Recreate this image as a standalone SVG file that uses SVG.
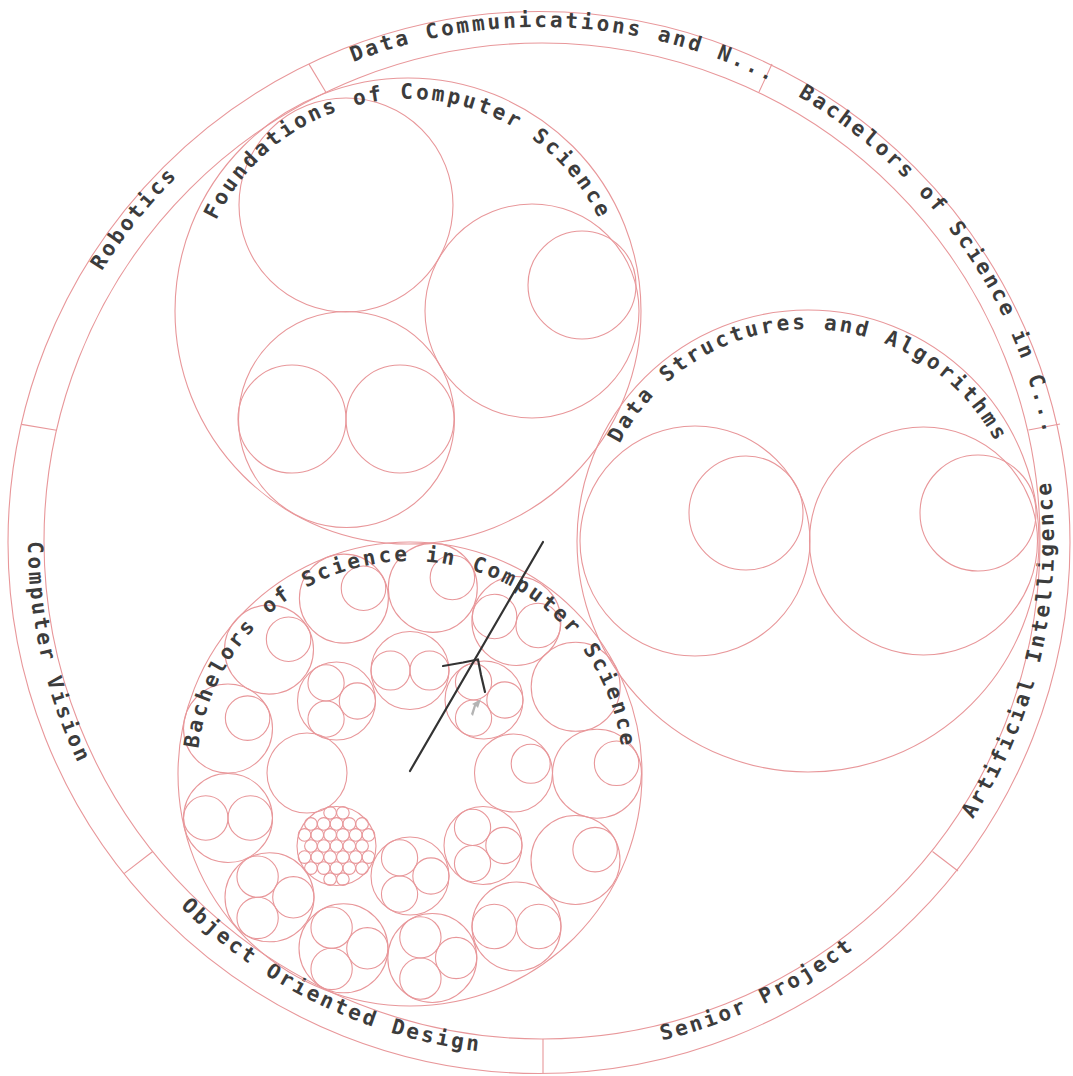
<svg xmlns="http://www.w3.org/2000/svg" xmlns:xlink="http://www.w3.org/1999/xlink" width="1073" height="1076" viewBox="0 0 1073 1076">
<style>
  .c { fill: none; stroke: #e8979a; stroke-width: 1.1; }
  .lbl { font-family: "DejaVu Sans Mono", "Liberation Mono", monospace; font-size: 21px; font-weight: bold; letter-spacing: 2.8px; fill: #3c3c3c; }
  .ln { fill: none; stroke: #333; stroke-width: 2.2; stroke-linecap: round; stroke-linejoin: round; }
</style>
<defs>
  <path id="ringTop" d="M25,542 A515,515 0 0 1 1055,542"/>
  <path id="ringBot" d="M28,542 A513,513 0 0 0 1054,542"/>
  <path id="arcF" d="M196,311 A212,212 0 0 1 620,311"/>
  <path id="arcD" d="M596,541 A212,212 0 0 1 1020,541"/>
  <path id="arcB" d="M197,774 A213,213 0 0 1 623,774"/>
</defs>
<rect width="1073" height="1076" fill="#ffffff"/>

<g id="ring">
  <circle class="c" cx="539" cy="542.5" r="531"/>
  <circle class="c" cx="542" cy="541" r="498"/>
  <g id="ring-dividers">
    <line class="c" x1="543" y1="1039" x2="543" y2="1073"/>
    <line class="c" x1="152.7" y1="851.5" x2="124" y2="873.6"/>
    <line class="c" x1="56.5" y1="430.2" x2="21.5" y2="424.4"/>
    <line class="c" x1="325.9" y1="92.3" x2="309" y2="64.1"/>
    <line class="c" x1="759" y1="92" x2="772" y2="64"/>
    <line class="c" x1="1028.5" y1="430" x2="1060" y2="424"/>
    <line class="c" x1="932.5" y1="851.5" x2="958" y2="871"/>
  </g>
  <g id="ring-labels">
    <text class="lbl" transform="rotate(-51.43 540 542)"><textPath xlink:href="#ringTop" href="#ringTop" startOffset="50%" text-anchor="middle">Robotics</textPath></text>
    <text class="lbl" transform="rotate(2.8 540 542)"><textPath xlink:href="#ringTop" href="#ringTop" startOffset="50%" text-anchor="middle">Data Communications and N...</textPath></text>
    <text class="lbl" transform="rotate(54.1 540 542)"><textPath xlink:href="#ringTop" href="#ringTop" startOffset="50%" text-anchor="middle">Bachelors of Science in C...</textPath></text>
    <text class="lbl" transform="rotate(-77.14 541 542)"><textPath xlink:href="#ringBot" href="#ringBot" startOffset="50%" text-anchor="middle">Artificial Intelligence</textPath></text>
    <text class="lbl" transform="rotate(-25.71 541 542)"><textPath xlink:href="#ringBot" href="#ringBot" startOffset="50%" text-anchor="middle">Senior Project</textPath></text>
    <text class="lbl" transform="rotate(25.71 541 542)"><textPath xlink:href="#ringBot" href="#ringBot" startOffset="50%" text-anchor="middle">Object Oriented Design</textPath></text>
    <text class="lbl" transform="rotate(77.14 541 542)"><textPath xlink:href="#ringBot" href="#ringBot" startOffset="50%" text-anchor="middle">Computer Vision</textPath></text>
  </g>
</g>

<g id="foundations">
  <circle class="c" cx="408" cy="311" r="233"/>
  <circle class="c" cx="346" cy="205" r="107"/>
  <circle class="c" cx="532" cy="311" r="107"/>
  <circle class="c" cx="582" cy="285" r="54"/>
  <circle class="c" cx="346.5" cy="419.5" r="108"/>
  <circle class="c" cx="292" cy="419" r="54"/>
  <circle class="c" cx="400" cy="419" r="54"/>
  <text class="lbl"><textPath xlink:href="#arcF" href="#arcF" startOffset="50%" text-anchor="middle">Foundations of Computer Science</textPath></text>
</g>

<g id="data-structures">
  <circle class="c" cx="808" cy="541" r="231"/>
  <circle class="c" cx="695" cy="541" r="115"/>
  <circle class="c" cx="746" cy="513" r="57"/>
  <circle class="c" cx="923.5" cy="541" r="114"/>
  <circle class="c" cx="978" cy="513" r="58"/>
  <text class="lbl"><textPath xlink:href="#arcD" href="#arcD" startOffset="50%" text-anchor="middle">Data Structures and Algorithms</textPath></text>
</g>

<g id="bachelors">
  <circle class="c" cx="410" cy="774" r="232"/>
  <g id="outer-courses">
    <circle class="c" cx="343.9" cy="598.6" r="44.5"/><circle class="c" cx="363.5" cy="588.2" r="22.25"/>
    <circle class="c" cx="432.8" cy="587.9" r="44.5"/><circle class="c" cx="452.4" cy="577.5" r="22.25"/>
    <circle class="c" cx="516.4" cy="621" r="44.5"/><circle class="c" cx="494.6" cy="616.5" r="22.25"/><circle class="c" cx="538.2" cy="625.5" r="22.25"/>
    <circle class="c" cx="575.7" cy="686.8" r="44.5"/>
    <circle class="c" cx="597" cy="773.7" r="44.5"/><circle class="c" cx="616.6" cy="763.3" r="22.25"/>
    <circle class="c" cx="575.5" cy="860" r="44.5"/><circle class="c" cx="595.1" cy="849.6" r="22.25"/>
    <circle class="c" cx="516.5" cy="926.5" r="44.5"/><circle class="c" cx="494.25" cy="926.5" r="22.25"/><circle class="c" cx="538.75" cy="926.5" r="22.25"/>
    <circle class="c" cx="432.3" cy="958" r="44.5"/><circle class="c" cx="456.15" cy="958" r="20.65"/><circle class="c" cx="420.4" cy="937.35" r="20.65"/><circle class="c" cx="420.4" cy="978.65" r="20.65"/>
    <circle class="c" cx="343.5" cy="948.3" r="44.5"/><circle class="c" cx="367.35" cy="948.3" r="20.65"/><circle class="c" cx="331.6" cy="927.65" r="20.65"/><circle class="c" cx="331.6" cy="968.95" r="20.65"/>
    <circle class="c" cx="269.5" cy="897.3" r="44.5"/><circle class="c" cx="293.35" cy="897.3" r="20.65"/><circle class="c" cx="257.6" cy="876.65" r="20.65"/><circle class="c" cx="257.6" cy="917.95" r="20.65"/>
    <circle class="c" cx="228" cy="818" r="44.5"/><circle class="c" cx="205.75" cy="818" r="22.25"/><circle class="c" cx="250.25" cy="818" r="22.25"/>
    <circle class="c" cx="228" cy="728.5" r="44.5"/><circle class="c" cx="247.6" cy="718.1" r="22.25"/>
    <circle class="c" cx="269" cy="649.6" r="44.5"/><circle class="c" cx="288.6" cy="639.2" r="22.25"/>
  </g>
  <g id="inner-courses">
    <circle class="c" cx="410" cy="670.5" r="39"/><circle class="c" cx="390.5" cy="670.5" r="19.5"/><circle class="c" cx="429.5" cy="670.5" r="19.5"/>
    <circle class="c" cx="484" cy="700" r="39"/><circle class="c" cx="504.9" cy="700" r="18.1"/><circle class="c" cx="473.55" cy="681.9" r="18.1"/><circle class="c" cx="473.55" cy="718.1" r="18.1"/>
    <circle class="c" cx="513.5" cy="773" r="39"/><circle class="c" cx="530.7" cy="763.8" r="19.5"/>
    <circle class="c" cx="483" cy="845.5" r="39"/><circle class="c" cx="503.9" cy="845.5" r="18.1"/><circle class="c" cx="472.55" cy="827.4" r="18.1"/><circle class="c" cx="472.55" cy="863.6" r="18.1"/>
    <circle class="c" cx="410" cy="876" r="39"/><circle class="c" cx="430.9" cy="876" r="18.1"/><circle class="c" cx="399.55" cy="857.9" r="18.1"/><circle class="c" cx="399.55" cy="894.1" r="18.1"/>
    <circle class="c" cx="307" cy="773" r="40"/>
    <circle class="c" cx="336.5" cy="701" r="39"/><circle class="c" cx="357.4" cy="701" r="18.1"/><circle class="c" cx="326.05" cy="682.9" r="18.1"/><circle class="c" cx="326.05" cy="719.1" r="18.1"/>
    <g id="honeycomb" transform="translate(336.5 846)">
      <circle class="c" cx="0" cy="0" r="39.5"/>
      <circle class="c" cx="-6.4" cy="-33.2" r="6.3"/><circle class="c" cx="6.4" cy="-33.2" r="6.3"/>
      <circle class="c" cx="-25.6" cy="-22.1" r="6.3"/><circle class="c" cx="-12.8" cy="-22.1" r="6.3"/><circle class="c" cx="0" cy="-22.1" r="6.3"/><circle class="c" cx="12.8" cy="-22.1" r="6.3"/><circle class="c" cx="25.6" cy="-22.1" r="6.3"/>
      <circle class="c" cx="-32" cy="-11.1" r="6.3"/><circle class="c" cx="-19.2" cy="-11.1" r="6.3"/><circle class="c" cx="-6.4" cy="-11.1" r="6.3"/><circle class="c" cx="6.4" cy="-11.1" r="6.3"/><circle class="c" cx="19.2" cy="-11.1" r="6.3"/><circle class="c" cx="32" cy="-11.1" r="6.3"/>
      <circle class="c" cx="-25.6" cy="0" r="6.3"/><circle class="c" cx="-12.8" cy="0" r="6.3"/><circle class="c" cx="0" cy="0" r="6.3"/><circle class="c" cx="12.8" cy="0" r="6.3"/><circle class="c" cx="25.6" cy="0" r="6.3"/>
      <circle class="c" cx="-32" cy="11.1" r="6.3"/><circle class="c" cx="-19.2" cy="11.1" r="6.3"/><circle class="c" cx="-6.4" cy="11.1" r="6.3"/><circle class="c" cx="6.4" cy="11.1" r="6.3"/><circle class="c" cx="19.2" cy="11.1" r="6.3"/><circle class="c" cx="32" cy="11.1" r="6.3"/>
      <circle class="c" cx="-25.6" cy="22.1" r="6.3"/><circle class="c" cx="-12.8" cy="22.1" r="6.3"/><circle class="c" cx="0" cy="22.1" r="6.3"/><circle class="c" cx="12.8" cy="22.1" r="6.3"/><circle class="c" cx="25.6" cy="22.1" r="6.3"/>
      <circle class="c" cx="-6.4" cy="33.2" r="6.3"/><circle class="c" cx="6.4" cy="33.2" r="6.3"/>
    </g>
  </g>
  <text class="lbl"><textPath xlink:href="#arcB" href="#arcB" startOffset="50%" text-anchor="middle">Bachelors of Science in Computer Science</textPath></text>
</g>

<g id="connectors">
  <line class="ln" x1="543" y1="542" x2="410" y2="771"/>
  <polyline class="ln" points="443,666 463,662.5 478,659.5"/>
  <polyline class="ln" points="478,659.5 481,675 485,692"/>
  <polygon points="481,699 478,708 476,706 473,716 471,714 474,705 472,704" fill="#b4b4b4"/>
</g>
</svg>
